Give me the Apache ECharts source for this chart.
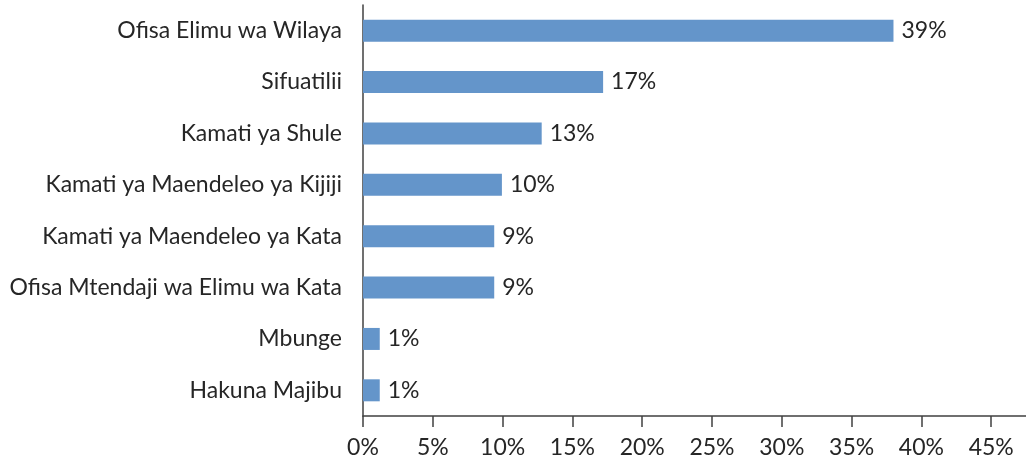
<!DOCTYPE html>
<html>
<head>
<meta charset="utf-8">
<script src="https://cdn.jsdelivr.net/npm/echarts@6/dist/echarts.min.js"></script>
<style>
  html, body { margin: 0; padding: 0; background: #fff; }
  #chart { width: 1026px; height: 456px; }
</style>
</head>
<body>
<div id="chart"></div>
<script>
const categories = [
  'Ofisa Elimu wa Wilaya',
  'Sifuatilii',
  'Kamati ya Shule',
  'Kamati ya Maendeleo ya Kijiji',
  'Kamati ya Maendeleo ya Kata',
  'Ofisa Mtendaji wa Elimu wa Kata',
  'Mbunge',
  'Hakuna Majibu'
];
const values = [38.0, 17.2, 12.8, 9.95, 9.4, 9.4, 1.2, 1.2];
const valueLabels = ['39%', '17%', '13%', '10%', '9%', '9%', '1%', '1%'];
const xTicks = { min: 0, max: 50, interval: 5 };

const FONT = 'Lato';
const TXT = '#262626';
const AX = '#404040';

const chart = echarts.init(document.getElementById('chart'), null, { renderer: 'canvas' });
chart.setOption({
  animation: false,
  backgroundColor: '#ffffff',
  grid: { left: 363, right: -35, top: 5, height: 411, containLabel: false, outerBoundsMode: 'none' },
  xAxis: {
    type: 'value',
    min: xTicks.min, max: xTicks.max, interval: xTicks.interval,
    axisLine: { show: true, lineStyle: { color: AX, width: 1.5 } },
    axisTick: { show: true, length: 11, lineStyle: { color: AX, width: 1.5 } },
    splitLine: { show: false },
    axisLabel: { formatter: '{value}%', color: TXT, fontFamily: FONT, fontSize: 23, margin: 20 }
  },
  yAxis: {
    type: 'category',
    inverse: true,
    data: categories,
    axisLine: { show: true, lineStyle: { color: AX, width: 1.5 } },
    axisTick: { show: false },
    axisLabel: { color: TXT, fontFamily: FONT, fontSize: 23, margin: 21 }
  },
  series: [{
    type: 'bar',
    data: values,
    barWidth: 22,
    itemStyle: { color: '#6495CA' },
    label: {
      show: true, position: 'right', distance: 8,
      color: TXT, fontFamily: FONT, fontSize: 23,
      formatter: p => valueLabels[p.dataIndex]
    }
  }]
});
</script>
</body>
</html>
